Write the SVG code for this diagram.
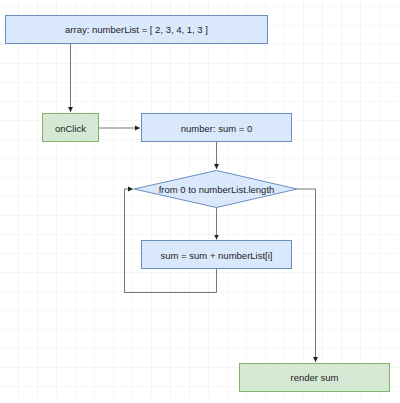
<svg xmlns="http://www.w3.org/2000/svg" width="400" height="403" viewBox="0 0 400 403">
<defs>
<pattern id="grid" width="19" height="19" patternUnits="userSpaceOnUse" x="0" y="7">
<path d="M19 0 V19 M0 19 H19" fill="none" stroke="#ebebeb" stroke-width="1"/>
</pattern>
<marker id="arr" markerWidth="6" markerHeight="6" refX="5" refY="3" orient="auto" markerUnits="userSpaceOnUse">
<path d="M0,0.5 L5,3 L0,5.5 Z" fill="#222"/>
</marker>
<style>
.blue{fill:#dae8fc;stroke:#6c8ebf;stroke-width:1}
.green{fill:#d5e8d4;stroke:#82b366;stroke-width:1}
.t{font-family:"Liberation Sans",Arial,sans-serif;font-size:9.5px;fill:#222;text-anchor:middle;dominant-baseline:central}
.c{fill:none;stroke:#777;stroke-width:1}
</style>
</defs>
<rect width="400" height="403" fill="#fff"/>
<rect width="398" height="398" fill="url(#grid)"/>
<g id="connectors">
<path class="c" d="M70.5 43 V112" marker-end="url(#arr)"/>
<path class="c" d="M99 128 H140" marker-end="url(#arr)"/>
<path class="c" d="M216.5 142 V169" marker-end="url(#arr)"/>
<path class="c" d="M216.5 207 V239.5" marker-end="url(#arr)"/>
<path class="c" d="M216.5 269 V292.5 H124.5 V189 H133" marker-end="url(#arr)"/>
<path class="c" d="M297 189 H315.5 V362" marker-end="url(#arr)"/>
</g>
<g id="array">
<rect class="blue" x="5.5" y="15.5" width="262" height="28"/>
<text class="t" x="136.5" y="29.5">array: numberList = [ 2, 3, 4, 1, 3 ]</text>
</g>
<g id="onClick">
<rect class="green" x="42.5" y="113.5" width="56" height="28"/>
<text class="t" x="70.5" y="128">onClick</text>
</g>
<g id="sumInit">
<rect class="blue" x="141.5" y="113.5" width="150" height="28"/>
<text class="t" x="216.5" y="128">number: sum = 0</text>
</g>
<g id="loop">
<polygon class="blue" points="216.5,170.5 297,189 216.5,207.5 134,189"/>
<text class="t" x="216.5" y="189">from 0 to numberList.length</text>
</g>
<g id="sumAdd">
<rect class="blue" x="141.5" y="240.5" width="150" height="28"/>
<text class="t" x="216.5" y="255">sum = sum + numberList[i]</text>
</g>
<g id="render">
<rect class="green" x="239.5" y="363.5" width="150" height="28"/>
<text class="t" x="314.5" y="377.5">render sum</text>
</g>
</svg>
